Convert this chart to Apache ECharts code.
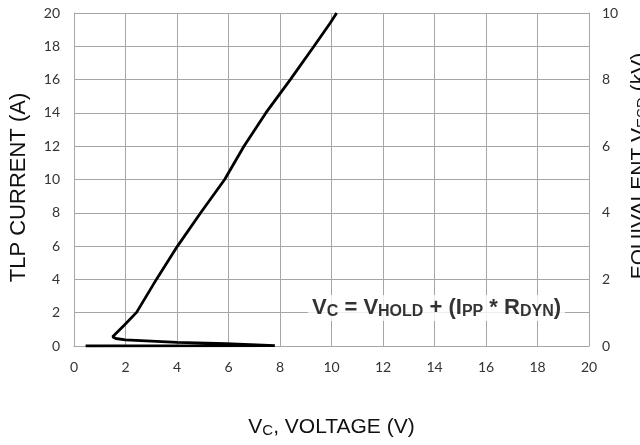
<!DOCTYPE html>
<html>
<head>
<meta charset="utf-8">
<script src="https://cdn.jsdelivr.net/npm/echarts@6/dist/echarts.min.js"></script>
<style>
html,body{margin:0;padding:0;background:#fff;}
#c{width:640px;height:445px;}
</style>
</head>
<body>
<div id="c"></div>
<script>
// TLP I-V curve: voltage (V) and current (A)
var voltage = [0.45, 7.8, 7.8, 5.9, 4.0, 2.0, 1.62, 1.5, 1.95, 2.43, 3.2, 4.02, 4.92, 5.85, 6.6, 7.45, 8.4, 9.32, 9.95, 10.2];
var current = [0.0, 0.02, 0.05, 0.14, 0.22, 0.37, 0.45, 0.55, 1.25, 2.02, 4.0, 6.0, 8.0, 10.0, 12.0, 14.0, 16.0, 18.0, 19.4, 20.0];
var xTicks = [0, 2, 4, 6, 8, 10, 12, 14, 16, 18, 20];
var leftTicks = [0, 2, 4, 6, 8, 10, 12, 14, 16, 18, 20];
var rightTicks = [0, 2, 4, 6, 8, 10];
var annotationAt = [14.08, 2.28];

var pts = voltage.map(function (v, i) { return [v, current[i]]; });
var grey = '#a6a6a6';
var tickFont = { fontFamily: 'Lato', fontSize: 14, color: '#333' };
var sub = { fontFamily: 'Liberation Sans', fontSize: 15, padding: [7, 0, 0, 0], color: '#111' };

var chart = echarts.init(document.getElementById('c'), null, { renderer: 'canvas' });
chart.setOption({
  animation: false,
  backgroundColor: '#fff',
  grid: { left: 74, right: 51, top: 13, bottom: 99, outerBoundsMode: 'none', containLabel: false },
  xAxis: {
    type: 'value', min: xTicks[0], max: xTicks[xTicks.length - 1], interval: 2,
    axisLine: { show: true, lineStyle: { color: grey, width: 1 } },
    axisTick: { show: false },
    axisLabel: Object.assign({ margin: 14 }, tickFont),
    splitLine: { show: true, lineStyle: { color: grey, width: 1 } },
    name: '{m|V}{s|C}{m|, VOLTAGE (V)}',
    nameLocation: 'middle', nameGap: 70,
    nameTextStyle: {
      padding: [0, 0, 0, 0],
      rich: {
        m: { fontFamily: 'Liberation Sans', fontSize: 21, color: '#111' },
        s: sub
      }
    }
  },
  yAxis: [{
    type: 'value', min: leftTicks[0], max: leftTicks[leftTicks.length - 1], interval: 2,
    axisLine: { show: true, lineStyle: { color: grey, width: 1 } },
    axisTick: { show: false },
    axisLabel: Object.assign({ margin: 14 }, tickFont),
    splitLine: { show: true, lineStyle: { color: grey, width: 1 } },
    name: 'TLP CURRENT (A)',
    nameLocation: 'middle', nameGap: 44, nameRotate: 90,
    nameTextStyle: { fontFamily: 'Liberation Sans', fontSize: 22, color: '#111', padding: [0, 16, 0, 0] }
  }, {
    type: 'value', position: 'right', min: rightTicks[0], max: rightTicks[rightTicks.length - 1], interval: 2,
    axisLine: { show: true, lineStyle: { color: grey, width: 1 } },
    axisTick: { show: false },
    axisLabel: Object.assign({ margin: 13 }, tickFont),
    splitLine: { show: false },
    name: '{m|EQUIVALENT V}{s|ESD}{m| (kV)}',
    nameLocation: 'middle', nameGap: 36, nameRotate: 90,
    nameTextStyle: {
      padding: [0, 0, 0, 27],
      rich: {
        m: { fontFamily: 'Liberation Sans', fontSize: 21, color: '#111' },
        s: sub
      }
    }
  }],
  series: [{
    type: 'line',
    data: pts,
    showSymbol: false,
    symbol: 'none',
    lineStyle: { color: '#000', width: 2.8 },
    z: 5
  }, {
    type: 'scatter',
    data: [annotationAt],
    symbolSize: 0,
    silent: true,
    z: 6,
    label: {
      show: true,
      position: 'inside',
      backgroundColor: '#fff',
      padding: [1, 4, 1, 4],
      formatter: '{m|V}{s|C}{m| = V}{s|HOLD}{m| + (I}{s|PP}{m| * R}{s|DYN}{m|)}',
      rich: {
        m: { fontFamily: 'Liberation Sans', fontWeight: 'bold', fontSize: 22, color: '#000' },
        s: { fontFamily: 'Liberation Sans', fontWeight: 'bold', fontSize: 16, color: '#000', padding: [8, 0, 0, 0] }
      }
    }
  }]
});
</script>
</body>
</html>
